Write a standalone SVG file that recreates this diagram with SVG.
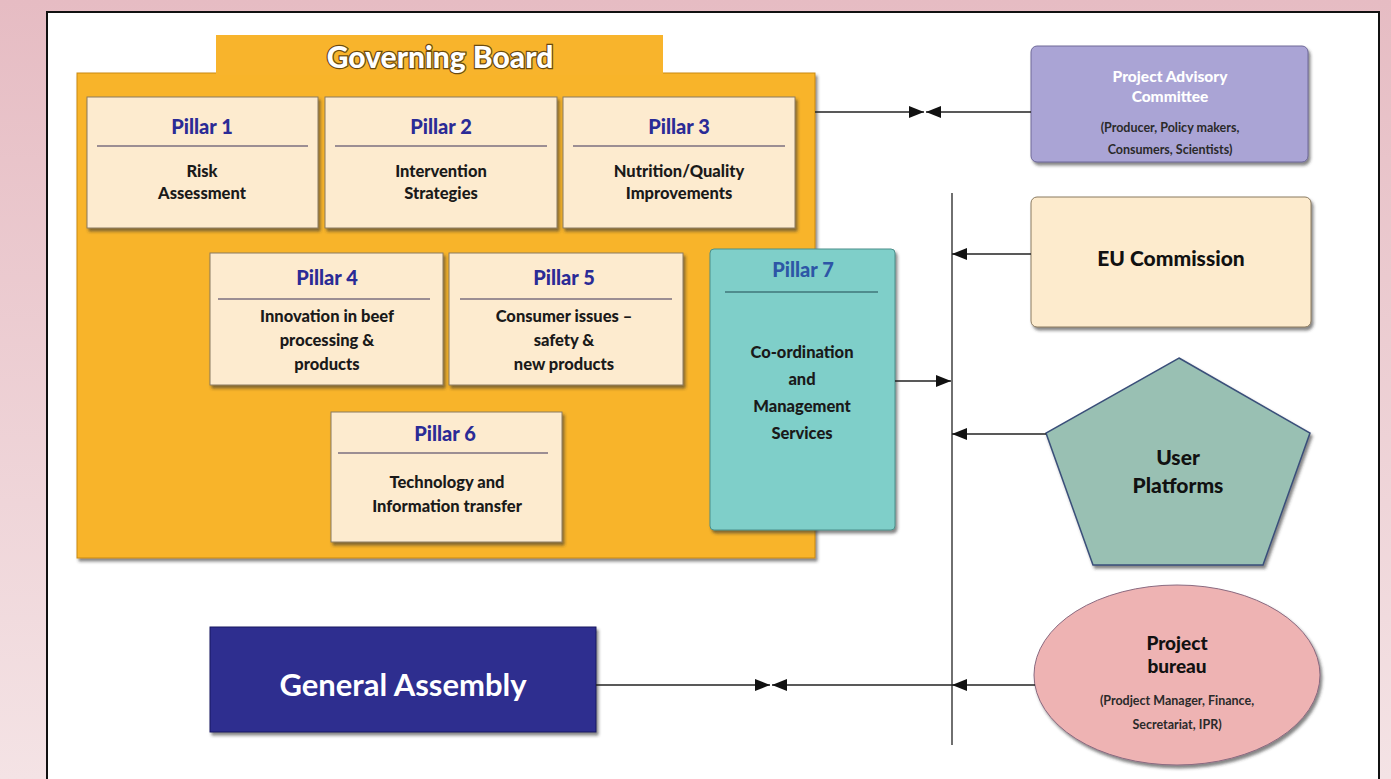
<svg xmlns="http://www.w3.org/2000/svg" width="1391" height="779" viewBox="0 0 1391 779">
<style>
.pb{fill:#fdebcf;stroke:#8a7a60;stroke-width:1}
.ph{font-family:Lato,"Open Sans",sans-serif;font-weight:900;font-size:20px;fill:#2b2b96;text-anchor:middle}
.pt{font-family:Lato,"Open Sans",sans-serif;font-weight:900;font-size:16.5px;fill:#1a1a1a;text-anchor:middle}
.sep{stroke:#7b6f7f;stroke-width:1.5}
.con{stroke:#222;stroke-width:1.3;fill:none}
.sm{font-family:Lato,"Open Sans",sans-serif;font-weight:bold;font-size:12.5px;fill:#2a2a2a;text-anchor:middle}
.bt{font-family:Lato,"Open Sans",sans-serif;font-weight:900;fill:#111;text-anchor:middle}
</style>
<defs>
<linearGradient id="bg" x1="0" y1="0" x2="0" y2="1">
<stop offset="0" stop-color="#e6bcc3"/>
<stop offset="1" stop-color="#f4e3e5"/>
</linearGradient>
<filter id="sh" x="-5%" y="-5%" width="115%" height="115%">
<feDropShadow dx="2" dy="3" stdDeviation="1.5" flood-color="#333" flood-opacity="0.6"/>
</filter>
<marker id="ah" viewBox="0 0 10 10" refX="10" refY="5" markerWidth="15" markerHeight="12" markerUnits="userSpaceOnUse" orient="auto" preserveAspectRatio="none">
<path d="M0,0 L10,5 L0,10 z" fill="#111"/>
</marker>
</defs>
<rect x="0" y="0" width="1391" height="779" fill="url(#bg)"/>
<rect x="47" y="12" width="1332" height="780" fill="#ffffff" stroke="#111" stroke-width="2"/>

<g id="governing-board">
<rect x="77" y="73" width="738" height="485" fill="#f8b42c" stroke="#c98a10" stroke-width="1" filter="url(#sh)"/>
<rect x="216" y="35" width="447" height="40" fill="#f8b42c"/>
<text x="440" y="68" font-family="Lato,'Open Sans',sans-serif" font-weight="900" font-size="30" fill="#ffffff" stroke="#6a4a10" stroke-width="2.5" paint-order="stroke" text-anchor="middle">Governing Board</text>
</g>

<g id="pillar1">
<rect class="pb" x="87" y="97" width="231" height="131" filter="url(#sh)"/>
<text class="ph" x="202" y="134">Pillar 1</text>
<line class="sep" x1="97" y1="146" x2="308" y2="146"/>
<text class="pt" x="202" y="177">Risk</text>
<text class="pt" x="202" y="199">Assessment</text>
</g>
<g id="pillar2">
<rect class="pb" x="325" y="97" width="232" height="131" filter="url(#sh)"/>
<text class="ph" x="441" y="134">Pillar 2</text>
<line class="sep" x1="335" y1="146" x2="547" y2="146"/>
<text class="pt" x="441" y="177">Intervention</text>
<text class="pt" x="441" y="199">Strategies</text>
</g>
<g id="pillar3">
<rect class="pb" x="563" y="97" width="232" height="131" filter="url(#sh)"/>
<text class="ph" x="679" y="134">Pillar 3</text>
<line class="sep" x1="573" y1="146" x2="785" y2="146"/>
<text class="pt" x="679" y="177">Nutrition/Quality</text>
<text class="pt" x="679" y="199">Improvements</text>
</g>
<g id="pillar4">
<rect class="pb" x="210" y="253" width="233" height="132" filter="url(#sh)"/>
<text class="ph" x="327" y="285">Pillar 4</text>
<line class="sep" x1="218" y1="299" x2="430" y2="299"/>
<text class="pt" x="327" y="322">Innovation in beef</text>
<text class="pt" x="327" y="346">processing &amp;</text>
<text class="pt" x="327" y="370">products</text>
</g>
<g id="pillar5">
<rect class="pb" x="449" y="253" width="234" height="132" filter="url(#sh)"/>
<text class="ph" x="564" y="285">Pillar 5</text>
<line class="sep" x1="460" y1="299" x2="672" y2="299"/>
<text class="pt" x="564" y="322">Consumer issues –</text>
<text class="pt" x="564" y="346">safety &amp;</text>
<text class="pt" x="564" y="370">new products</text>
</g>
<g id="pillar6">
<rect class="pb" x="331" y="412" width="231" height="130" filter="url(#sh)"/>
<text class="ph" x="445" y="441">Pillar 6</text>
<line class="sep" x1="338" y1="453" x2="548" y2="453"/>
<text class="pt" x="447" y="488">Technology and</text>
<text class="pt" x="447" y="512">Information transfer</text>
</g>
<g id="pillar7">
<rect x="710" y="249" width="185" height="281" rx="4" fill="#7fcfc9" stroke="#4d8f8a" stroke-width="1" filter="url(#sh)"/>
<text class="ph" x="803" y="277" style="fill:#2d56a6">Pillar 7</text>
<line x1="725" y1="292" x2="878" y2="292" stroke="#4f8c8d" stroke-width="2"/>
<text class="pt" x="802" y="358">Co-ordination</text>
<text class="pt" x="802" y="385">and</text>
<text class="pt" x="802" y="412">Management</text>
<text class="pt" x="802" y="439">Services</text>
</g>

<g id="project-advisory-committee">
<rect x="1031" y="46" width="277" height="116" rx="6" fill="#aaa4d5" stroke="#6e6898" stroke-width="1" filter="url(#sh)"/>
<text x="1170" y="82" font-family="Lato,'Open Sans',sans-serif" font-weight="900" font-size="15.5" fill="#ffffff" text-anchor="middle">Project Advisory</text>
<text x="1170" y="102" font-family="Lato,'Open Sans',sans-serif" font-weight="900" font-size="15.5" fill="#ffffff" text-anchor="middle">Committee</text>
<text class="sm" x="1170" y="132">(Producer, Policy makers,</text>
<text class="sm" x="1170" y="154">Consumers, Scientists)</text>
</g>
<g id="eu-commission">
<rect x="1031" y="197" width="280" height="130" rx="6" fill="#fdebcd" stroke="#8a7a60" stroke-width="1" filter="url(#sh)"/>
<text class="bt" x="1171" y="266" font-size="21">EU Commission</text>
</g>
<g id="user-platforms">
<polygon points="1179,358 1310,433 1263,565 1093,565 1046,433" fill="#99c0b3" stroke="#3a4f7a" stroke-width="1.5" filter="url(#sh)"/>
<text class="bt" x="1178" y="465" font-size="21">User</text>
<text class="bt" x="1178" y="493" font-size="21">Platforms</text>
</g>
<g id="project-bureau">
<ellipse cx="1177" cy="675" rx="143" ry="90" fill="#eeb3b3" stroke="#8a6a80" stroke-width="1" filter="url(#sh)"/>
<text class="bt" x="1177" y="650" font-size="19">Project</text>
<text class="bt" x="1177" y="673" font-size="19">bureau</text>
<text class="sm" x="1177" y="705" font-size="12">(Prodject Manager, Finance,</text>
<text class="sm" x="1177" y="729" font-size="12">Secretariat, IPR)</text>
</g>
<g id="general-assembly">
<rect x="210" y="627" width="386" height="105" fill="#2d2d8f" stroke="#1a1a60" stroke-width="1" filter="url(#sh)"/>
<text x="403" y="696" font-family="Lato,'Open Sans',sans-serif" font-weight="bold" font-size="31" fill="#ffffff" text-anchor="middle">General Assembly</text>
</g>

<g id="connectors">
<line class="con" x1="952" y1="193" x2="952" y2="745"/>
<line class="con" x1="815" y1="112" x2="924" y2="112" marker-end="url(#ah)"/>
<line class="con" x1="1031" y1="112" x2="926" y2="112" marker-end="url(#ah)"/>
<line class="con" x1="1031" y1="254" x2="952" y2="254" marker-end="url(#ah)"/>
<line class="con" x1="895" y1="381" x2="951" y2="381" marker-end="url(#ah)"/>
<line class="con" x1="1046" y1="434" x2="952" y2="434" marker-end="url(#ah)"/>
<line class="con" x1="1035" y1="685" x2="952" y2="685" marker-end="url(#ah)"/>
<line class="con" x1="596" y1="685" x2="770" y2="685" marker-end="url(#ah)"/>
<line class="con" x1="952" y1="685" x2="772" y2="685" marker-end="url(#ah)"/>
</g>
</svg>
